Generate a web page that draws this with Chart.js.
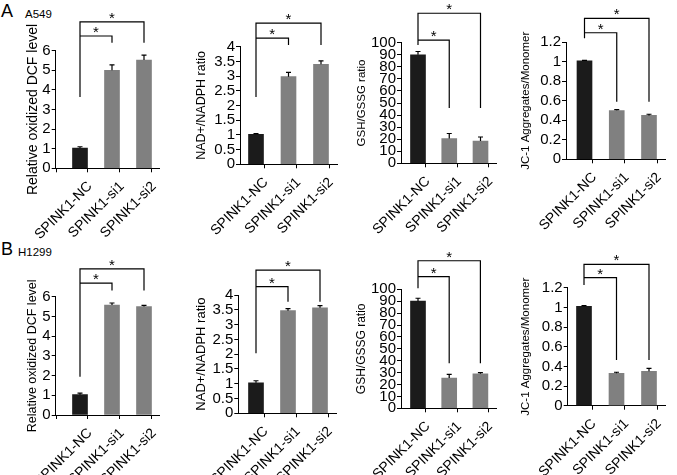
<!DOCTYPE html>
<html>
<head>
<meta charset="utf-8">
<script src="https://cdn.jsdelivr.net/npm/chart.js@4"></script>
<style>
body { margin: 0; background: #fff; }
#fig { position: relative; width: 677px; height: 475px; overflow: hidden; font-family: 'Liberation Sans', Arial, sans-serif; }
#fig canvas { position: absolute; left: 0; top: 0; }
.lbl { position: absolute; line-height: 1; color: #000; white-space: nowrap; }
</style>
</head>
<body>
<div id="fig">
  <div class="lbl" style="left:1px;top:2px;font-size:18px">A</div>
  <div class="lbl" style="left:25px;top:8.6px;font-size:11.5px">A549</div>
  <div class="lbl" style="left:1px;top:240px;font-size:18px">B</div>
  <div class="lbl" style="left:18px;top:246.6px;font-size:11.5px">H1299</div>
  <canvas id="a1" width="677" height="560"></canvas>
  <canvas id="a2" width="677" height="560"></canvas>
  <canvas id="a3" width="677" height="560"></canvas>
  <canvas id="a4" width="677" height="560"></canvas>
  <canvas id="b1" width="677" height="560"></canvas>
  <canvas id="b2" width="677" height="560"></canvas>
  <canvas id="b3" width="677" height="560"></canvas>
  <canvas id="b4" width="677" height="560"></canvas>
</div>
<script>
const groups = ['SPINK1-NC', 'SPINK1-si1', 'SPINK1-si2'];

// A549
const dcfA549 = [1.03, 5.0, 5.52];
const dcfA549Err = [0.07, 0.28, 0.25];
const nadA549 = [1.02, 2.98, 3.4];
const nadA549Err = [0.02, 0.15, 0.12];
const gshA549 = [90, 20.5, 18.5];
const gshA549Err = [2.7, 4.2, 3.3];
const jcA549 = [1.01, 0.5, 0.45];
const jcA549Err = [0.005, 0.01, 0.012];

// H1299
const dcfH1299 = [1.03, 5.58, 5.5];
const dcfH1299Err = [0.08, 0.1, 0.06];
const nadH1299 = [1.03, 3.47, 3.57];
const nadH1299Err = [0.07, 0.07, 0.07];
const gshH1299 = [90, 25.5, 29];
const gshH1299Err = [2.5, 3, 1];
const jcH1299 = [1.01, 0.33, 0.35];
const jcH1299Err = [0.008, 0.01, 0.03];

// y tick labels
const dcfTicks = [0, 1, 2, 3, 4, 5, 6];
const nadTicks = [0, 0.5, 1, 1.5, 2, 2.5, 3, 3.5, 4];
const gshTicks = [0, 10, 20, 30, 40, 50, 60, 70, 80, 90, 100];
const jcTicks = [0, 0.2, 0.4, 0.6, 0.8, 1, 1.2];

const FONT = "'Liberation Sans', Arial, sans-serif";
const CW = 677, CH = 560;
Chart.defaults.font.family = FONT;
Chart.defaults.color = '#000';

// error bars + significance brackets
const marks = {
  id: 'marks',
  afterDatasetsDraw(chart, args, opts) {
    const { ctx, scales: { x, y } } = chart;
    const ds = chart.data.datasets[0];
    ctx.save();
    ctx.strokeStyle = '#000';
    ctx.lineWidth = 1.2;
    ds.data.forEach((p, i) => {
      const px = x.getPixelForValue(p.x);
      const y0 = y.getPixelForValue(p.y);
      const y1 = y.getPixelForValue(p.y + opts.err[i]);
      ctx.beginPath();
      ctx.moveTo(px, y0);
      ctx.lineTo(px, y1);
      ctx.moveTo(px - 2.5, y1);
      ctx.lineTo(px + 2.5, y1);
      ctx.stroke();
    });
    const b = opts.bracket;
    const X0 = x.getPixelForValue(0), X1 = x.getPixelForValue(1), X2 = x.getPixelForValue(2);
    const Yi = y.getPixelForValue(b.inner), Yo = y.getPixelForValue(b.outer);
    const Yl = y.getPixelForValue(b.left), Yr = y.getPixelForValue(b.right);
    ctx.beginPath();
    ctx.moveTo(X0, Yl); ctx.lineTo(X0, Yo); ctx.lineTo(X2, Yo); ctx.lineTo(X2, Yr);
    ctx.moveTo(X0, Yi); ctx.lineTo(X1, Yi); ctx.lineTo(X1, Yr);
    ctx.stroke();
    ctx.fillStyle = '#000';
    ctx.font = '15px ' + FONT;
    ctx.textAlign = 'center';
    ctx.fillText('*', (X0 + X1) / 2, Yi + 1);
    ctx.fillText('*', (X0 + X2) / 2, Yo + 1);
    ctx.restore();
  }
};

function panel(id, vals, errs, yTicks, title, lay, bracket) {
  const padLeft = lay.titleX - lay.titleSize * 1.2 / 2;
  const right = lay.c0 + 2.5 * lay.sp;
  const xmin = (lay.axisX - lay.c0) / lay.sp;
  const xTickVals = [-0.5, 0, 0.5, 1, 1.5, 2, 2.5].filter(v => v > xmin + 0.05);

  new Chart(document.getElementById(id), {
    type: 'bar',
    data: {
      datasets: [{
        data: vals.map((v, i) => ({ x: i, y: v })),
        backgroundColor: ['#1b1b1b', '#808080', '#808080'],
        barThickness: 15,
        borderWidth: 0
      }]
    },
    options: {
      responsive: false,
      animation: false,
      events: [],
      layout: { padding: { left: padLeft, top: lay.top, right: CW - right, bottom: CH - lay.bottom - 100 } },
      plugins: {
        legend: { display: false },
        tooltip: { enabled: false },
        marks: { err: errs, bracket: bracket }
      },
      scales: {
        x: {
          type: 'linear',
          min: xmin,
          max: 2.5,
          offset: false,
          afterBuildTicks: s => { s.ticks = xTickVals.map(v => ({ value: v })); },
          afterFit: s => { s.height = 100; s.paddingLeft = 0; s.paddingRight = 0; },
          grid: {
            drawOnChartArea: false,
            tickLength: 4,
            tickColor: c => (c.tick && Number.isInteger(c.tick.value)) ? 'rgba(0,0,0,0)' : '#000'
          },
          border: { color: '#000', width: 1 },
          ticks: {
            autoSkip: false, maxRotation: 45, minRotation: 45, padding: 6, labelOffset: 10,
            color: '#000', font: { size: 14 },
            callback: v => Number.isInteger(v) ? groups[v] : ''
          }
        },
        y: {
          min: 0,
          max: yTicks[yTicks.length - 1],
          afterBuildTicks: s => { s.ticks = yTicks.map(v => ({ value: v })); },
          afterFit: s => { s.width = lay.axisX - padLeft; s.paddingTop = 0; s.paddingBottom = 0; },
          grid: { drawOnChartArea: false, tickLength: 4, tickColor: '#000' },
          border: { color: '#000', width: 1 },
          ticks: { autoSkip: false, padding: 1, color: '#000', font: { size: 15 }, callback: v => String(+v.toFixed(2)) },
          title: { display: true, text: title, color: '#000', font: { size: lay.titleSize }, padding: 0 }
        }
      }
    },
    plugins: [marks]
  });
}

panel('a1', dcfA549, dcfA549Err, dcfTicks, 'Relative oxidized DCF level',
  { titleX: 33, titleSize: 14, axisX: 55.7, top: 50.7, bottom: 168.3, c0: 80, sp: 32 },
  { inner: 6.75, outer: 7.47, left: 3.64, right: 6.4 });
panel('a2', nadA549, nadA549Err, nadTicks, 'NAD+/NADPH ratio',
  { titleX: 201.7, titleSize: 12.5, axisX: 240, top: 46.7, bottom: 164.3, c0: 256, sp: 32.5 },
  { inner: 4.29, outer: 4.8, left: 2.29, right: 4.06 });
panel('a3', gshA549, gshA549Err, gshTicks, 'GSH/GSSG ratio',
  { titleX: 361.7, titleSize: 11.5, axisX: 401, top: 42.7, bottom: 163.3, c0: 418, sp: 31.25 },
  { inner: 102.2, outer: 124.4, left: 98.1, right: 45.9 });
panel('a4', jcA549, jcA549Err, jcTicks, 'JC-1 Aggregates/Monomer',
  { titleX: 525.7, titleSize: 11.5, axisX: 566, top: 42.3, bottom: 159.3, c0: 584.5, sp: 32.25 },
  { inner: 1.298, outer: 1.446, left: 1.241, right: 0.591 });

panel('b1', dcfH1299, dcfH1299Err, dcfTicks, 'Relative oxidized DCF level',
  { titleX: 33, titleSize: 12.5, axisX: 55.7, top: 296.7, bottom: 415, c0: 80, sp: 32 },
  { inner: 6.69, outer: 7.41, left: 1.94, right: 6.31 });
panel('b2', nadH1299, nadH1299Err, nadTicks, 'NAD+/NADPH ratio',
  { titleX: 201.7, titleSize: 13, axisX: 238.3, top: 295, bottom: 413.3, c0: 256, sp: 32 },
  { inner: 4.28, outer: 4.84, left: 2.03, right: 3.77 });
panel('b3', gshH1299, gshH1299Err, gshTicks, 'GSH/GSSG ratio',
  { titleX: 361.7, titleSize: 12, axisX: 401, top: 289.3, bottom: 408.3, c0: 418, sp: 31.2 },
  { inner: 110.6, outer: 124, left: 100.8, right: 37.8 });
panel('b4', jcH1299, jcH1299Err, jcTicks, 'JC-1 Aggregates/Monomer',
  { titleX: 525.7, titleSize: 11.5, axisX: 567.7, top: 287.7, bottom: 405.7, c0: 584, sp: 32.5 },
  { inner: 1.302, outer: 1.438, left: 1.228, right: 0.465 });
</script>
</body>
</html>
